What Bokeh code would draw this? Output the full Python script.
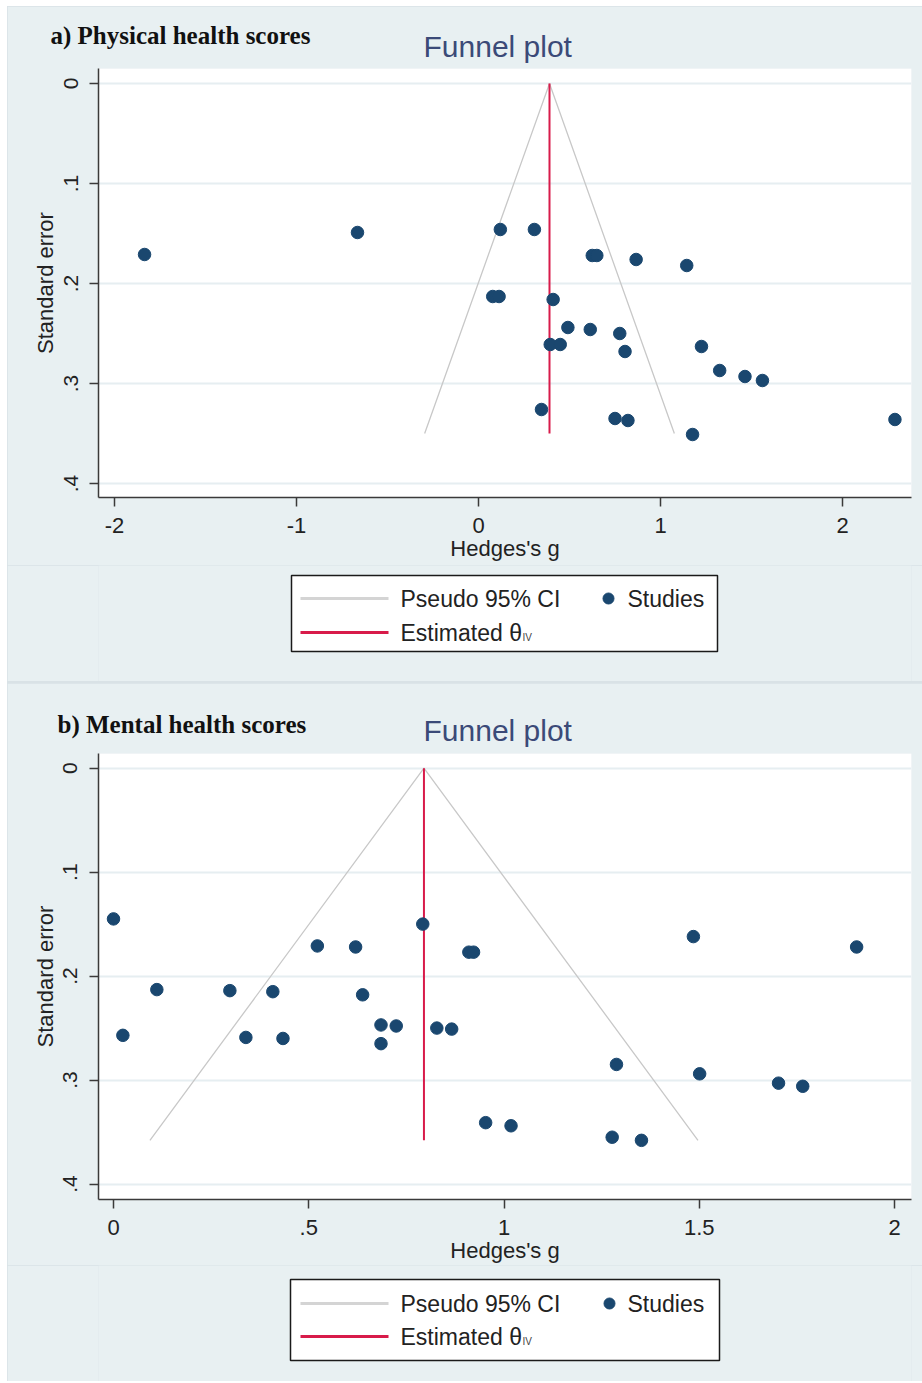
from bokeh.plotting import figure
from bokeh.layouts import column
from bokeh.models import Range1d, FixedTicker, Title
from bokeh.embed import file_html
from bokeh.resources import INLINE
from bokeh.core.properties import value

# ---------------- data ----------------
# a) Physical health scores
phys_g = [-1.835, -0.665, 0.120, 0.307, 0.625, 0.650, 0.866, 1.144, 0.078, 0.113,
          0.410, 0.491, 0.614, 0.776, 0.394, 0.449, 0.805, 1.225, 1.325, 1.464,
          1.560, 0.346, 0.750, 0.821, 1.176, 2.288]
phys_se = [0.171, 0.149, 0.146, 0.146, 0.172, 0.172, 0.176, 0.182, 0.213, 0.213,
           0.216, 0.244, 0.246, 0.250, 0.261, 0.261, 0.268, 0.263, 0.287, 0.293,
           0.297, 0.326, 0.335, 0.337, 0.351, 0.336]
phys_theta = 0.39
phys_se_max = 0.35

# b) Mental health scores
ment_g = [0.000, 0.792, 1.485, 0.522, 0.620, 1.903, 0.910, 0.922, 0.111, 0.298,
          0.408, 0.638, 0.024, 0.339, 0.434, 0.685, 0.724, 0.828, 0.866, 0.685,
          1.288, 1.501, 1.703, 1.765, 0.953, 1.018, 1.277, 1.352]
ment_se = [0.145, 0.150, 0.162, 0.171, 0.172, 0.172, 0.177, 0.177, 0.213, 0.214,
           0.215, 0.218, 0.257, 0.259, 0.260, 0.247, 0.248, 0.250, 0.251, 0.265,
           0.285, 0.294, 0.303, 0.306, 0.341, 0.344, 0.355, 0.358]
ment_theta = 0.795
ment_se_max = 0.358

se_ticks = [0, 0.1, 0.2, 0.3, 0.4]
se_tick_labels = ["0", ".1", ".2", ".3", ".4"]
phys_x_ticks = [-2, -1, 0, 1, 2]
phys_x_labels = ["-2", "-1", "0", "1", "2"]
ment_x_ticks = [0, 0.5, 1, 1.5, 2]
ment_x_labels = ["0", ".5", "1", "1.5", "2"]

legend_labels = ["Pseudo 95% CI", "Studies", "Estimated θ", "IV"]

# ---------------- styles ----------------
BG = "#e8f0f2"
SEP = "#d9e2e6"
DOT = "#1a476f"
RED = "#d81b4a"
CI = "#c8c8c8"
AXIS = "#3a3a3a"
NAVY = "#3b4a78"
SANS = "Liberation Sans"
SERIF = "Liberation Serif"
W = 915          # figure width (page x 7 .. 922)
MBL = 91         # frame left at page x 98
MBR = 11         # frame right at page x 911


def funnel_panel(g, se, theta, se_max, xr, yr, xticks, xlabels, height,
                 mb_top, mb_bottom, panel_title, title_off, fp_standoff, pt_standoff):
    p = figure(width=W, height=height, x_range=Range1d(*xr), y_range=Range1d(*yr),
               output_backend="svg", toolbar_location=None,
               min_border_left=MBL, min_border_right=MBR,
               min_border_top=mb_top, min_border_bottom=mb_bottom)
    p.background_fill_color = "white"
    p.border_fill_color = BG
    p.outline_line_color = None

    p.xgrid.visible = False
    p.ygrid.ticker = FixedTicker(ticks=se_ticks)
    p.ygrid.grid_line_color = "#e6eef1"
    p.ygrid.grid_line_width = 2

    for ax in (p.xaxis[0], p.yaxis[0]):
        ax.axis_line_color = AXIS
        ax.axis_line_width = 1.5
        ax.major_tick_line_color = AXIS
        ax.major_tick_line_width = 1.5
        ax.major_tick_out = 9
        ax.major_tick_in = 0
        ax.minor_tick_line_color = None
        ax.major_label_text_font = SANS
        ax.major_label_text_color = "#222222"
        ax.axis_label_text_font = SANS
        ax.axis_label_text_font_style = "normal"
        ax.axis_label_text_font_size = "22px"
        ax.axis_label_text_color = "#222222"

    p.xaxis.ticker = FixedTicker(ticks=xticks)
    p.xaxis.major_label_overrides = {t: l for t, l in zip(xticks, xlabels)}
    p.xaxis.major_label_text_font_size = "22px"
    p.xaxis.major_label_standoff = 11
    p.xaxis.axis_label = "Hedges's g"
    p.xaxis.axis_label_standoff = 0

    p.yaxis.ticker = FixedTicker(ticks=se_ticks)
    p.yaxis.major_label_overrides = {t: l for t, l in zip(se_ticks, se_tick_labels)}
    p.yaxis.major_label_orientation = "vertical"
    p.yaxis.major_label_text_font_size = "21px"
    p.yaxis.major_label_standoff = 12
    p.yaxis.axis_label = "Standard error"
    p.yaxis.axis_label_standoff = 3

    lo = theta - 1.96 * se_max
    hi = theta + 1.96 * se_max
    p.line([lo, theta, hi], [se_max, 0, se_max], line_color=CI, line_width=1.3)
    p.line([theta, theta], [0, se_max], line_color=RED, line_width=2)
    p.scatter(g, se, size=12.5, fill_color=DOT, line_color=DOT)

    # outer title: panel name; inner title (closest to the frame): "Funnel plot"
    p.title.text = panel_title
    p.title.align = "left"
    p.title.offset = title_off
    p.title.text_font = SERIF
    p.title.text_font_style = "bold"
    p.title.text_font_size = "25px"
    p.title.text_color = "#111111"
    p.title.standoff = pt_standoff
    p.add_layout(Title(text="Funnel plot", align="left", offset=325,
                       text_font=SANS, text_font_style="normal",
                       text_font_size="30px", text_color=NAVY,
                       standoff=fp_standoff), "above")
    return p


def legend_panel(top, height, box, y1, y2, dot_x, studies_x):
    p = figure(width=W, height=height, x_range=Range1d(98, 911),
               y_range=Range1d(top + height, top), output_backend="svg",
               toolbar_location=None, min_border_left=MBL, min_border_right=MBR,
               min_border_top=0, min_border_bottom=0,
               x_axis_location=None, y_axis_location=None)
    p.background_fill_color = BG
    p.border_fill_color = BG
    p.outline_line_color = None
    p.grid.visible = False
    p.quad(left=[box[0]], right=[box[1]], top=[box[2]], bottom=[box[3]],
           fill_color="white", line_color="#1a1a1a", line_width=1.5)
    p.line([300, 388], [y1, y1], line_color="#d4d4d4", line_width=3)
    p.line([300, 388], [y2, y2], line_color=RED, line_width=3)
    p.scatter([dot_x], [y1], size=11, fill_color=DOT, line_color=DOT)
    p.text(x=[400, studies_x, 400], y=[y1, y1, y2],
           text=legend_labels[:3], text_font=value(SANS), text_font_size="23px",
           text_color="#222222", text_baseline="middle", text_align="left")
    p.text(x=[522], y=[y2 + 5], text=[legend_labels[3]], text_font=value(SANS),
           text_font_size="10px", text_color="#444444", text_baseline="middle",
           text_align="left")
    return p


fig_a = funnel_panel(phys_g, phys_se, phys_theta, phys_se_max,
                     xr=(-2.088, 2.379), yr=(0.414, -0.015),
                     xticks=phys_x_ticks, xlabels=phys_x_labels,
                     height=559, mb_top=62, mb_bottom=68,
                     panel_title="a) Physical health scores", title_off=-48,
                     fp_standoff=11, pt_standoff=-52)
leg_a = legend_panel(565, 116, (291, 717, 575, 651), 598, 632, 608, 627)

fig_b = funnel_panel(ment_g, ment_se, ment_theta, ment_se_max,
                     xr=(-0.0384, 2.0435), yr=(0.4149, -0.0141),
                     xticks=ment_x_ticks, xlabels=ment_x_labels,
                     height=582, mb_top=70, mb_bottom=65,
                     panel_title="b) Mental health scores", title_off=-41,
                     fp_standoff=13, pt_standoff=-65)
fig_b.margin = (2, 0, 0, 0)
leg_b = legend_panel(1265, 116, (290, 719, 1279, 1360), 1303, 1336, 609, 627)

layout = column(fig_a, leg_a, fig_b, leg_b, spacing=0, margin=(6, 0, 0, 7),
                styles={"background-color": SEP})
open("out.html", "w").write(file_html(layout, INLINE))
